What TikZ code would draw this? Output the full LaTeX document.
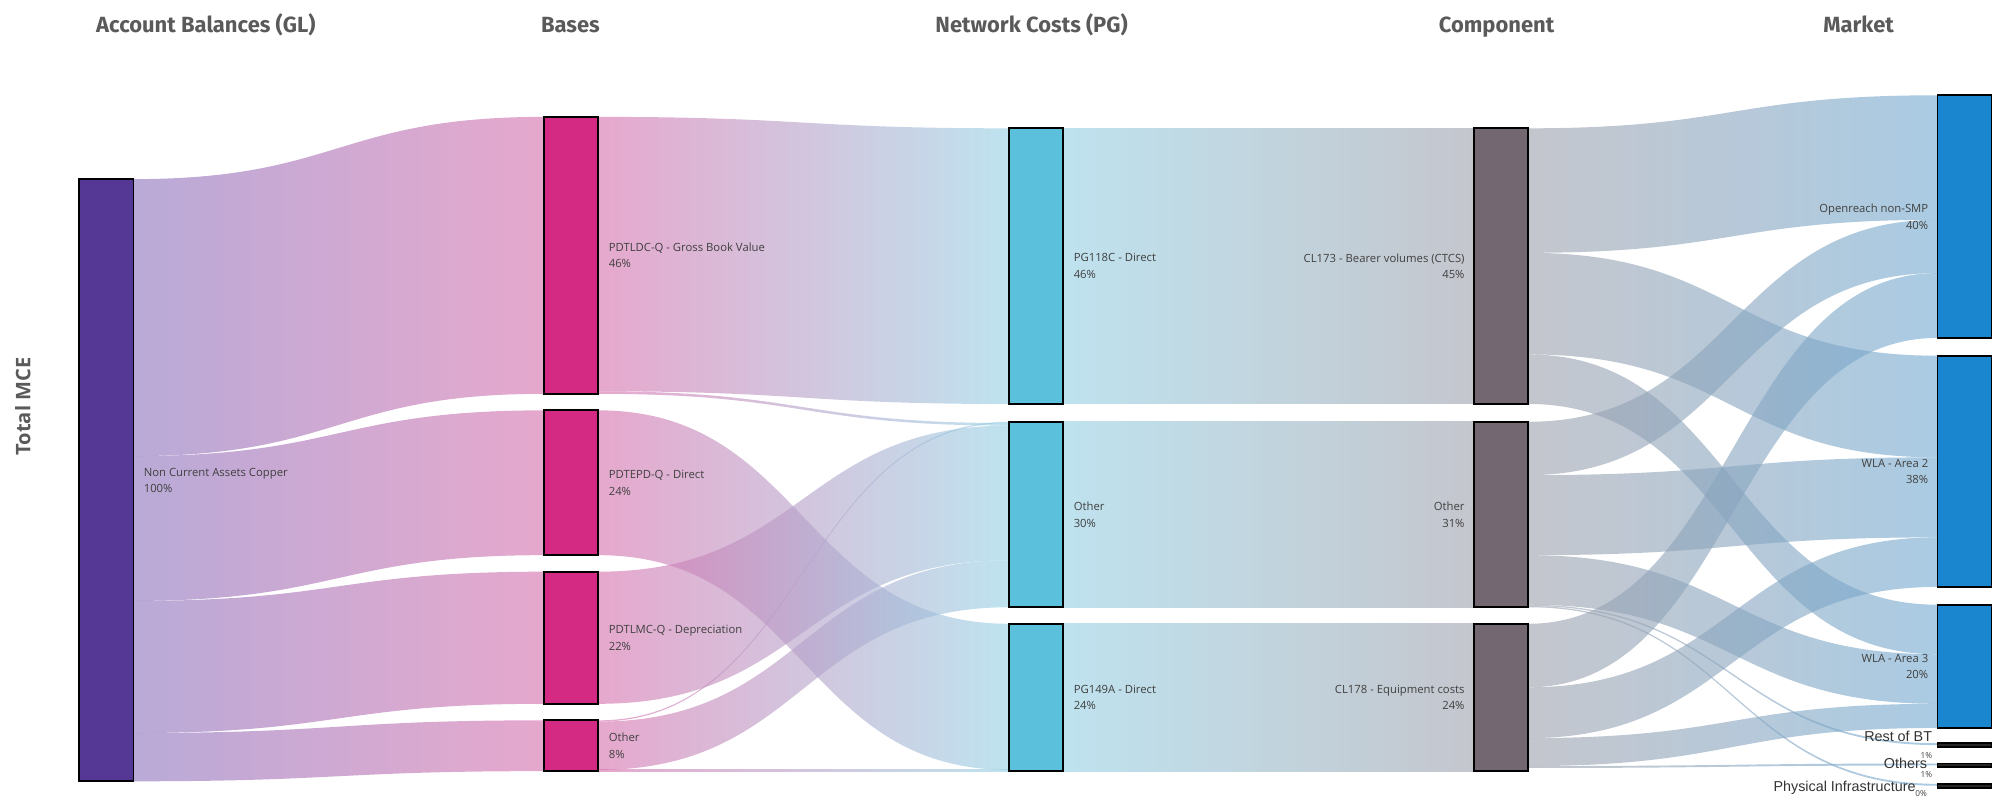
\documentclass[tikz,border=0pt]{standalone}
\usepackage{fontspec}
\setmainfont{Open Sans}
\newfontfamily\titlefont{Fira Sans}
\newfontfamily\smallmktfont{Liberation Sans}
\usetikzlibrary{calc}
\usetikzlibrary{backgrounds}

\definecolor{mcepurple}{HTML}{553796}
\definecolor{basepink}{HTML}{D42A84}
\definecolor{pgcyan}{HTML}{5BC0DC}
\definecolor{clmauve}{HTML}{736772}
\definecolor{mktblue}{HTML}{1A86CF}
\definecolor{titlegrey}{HTML}{5A5A5A}
\definecolor{labelgrey}{HTML}{404040}
\definecolor{lilac}{HTML}{8A71BC}
\definecolor{rose}{HTML}{D56EAC}
\definecolor{ice}{HTML}{93CFE3}
\definecolor{steel}{HTML}{9DA0AC}
\definecolor{sky}{HTML}{71A8D0}

% band between two bars: offsets measured down from the top of each bar
\newcommand{\sankeylink}[7][]{%
  \coordinate (st) at ([yshift=-#3pt]#2.north east);
  \coordinate (sb) at ([yshift=-#4pt]#2.north east);
  \coordinate (dt) at ([yshift=-#6pt]#5.north west);
  \coordinate (db) at ([yshift=-#7pt]#5.north west);
  \coordinate (mx) at ($(st)!0.5!(dt)$);
  \shade[#1] (st) .. controls (mx |- st) and (mx |- dt) .. (dt)
    -- (db) .. controls (mx |- db) and (mx |- sb) .. (sb) -- cycle;
}

\begin{document}
\begin{tikzpicture}[x=1pt, y=-1pt,
    bar/.style={rectangle, draw=black, line width=1.4pt, minimum width=43pt, inner sep=0pt, outer sep=0pt, anchor=north west},
    thinbar/.style={bar, fill=black!85, minimum height=3pt},
    lbl/.style={inner sep=0pt, text=labelgrey, font=\fontsize{8.9}{13}\selectfont},
    lbll/.style={lbl, align=left, anchor=west},
    lblr/.style={lbl, align=right, anchor=east},
    mktsmall/.style={inner sep=0pt, anchor=base east, text=black!80, font=\smallmktfont\fontsize{11.3}{12}\selectfont},
    mktpct/.style={inner sep=0pt, anchor=east, text=labelgrey, font=\fontsize{6.5}{7}\selectfont},
    coltitle/.style={anchor=base, text=titlegrey, font=\titlefont\bfseries\fontsize{17.3}{20}\selectfont},
    flowgl/.style={left color=lilac, right color=rose, fill opacity=0.6},
    flowbase/.style={left color=rose, right color=ice, fill opacity=0.6},
    flowpg/.style={left color=ice, right color=steel, fill opacity=0.6},
    flowcl/.style={left color=steel, right color=sky, fill opacity=0.6},
    ]
    \useasboundingbox (0,0) rectangle (1568,629);

    %Titles
    \node[coltitle] (tgl)     at (162,25.7)  {Account Balances (GL)};
    \node[coltitle] (tbase)   at (449,25.7)  {Bases};
    \node[coltitle] (tpg)     at (812,25.7)  {Network Costs (PG)};
    \node[coltitle] (tcl)     at (1178,25.7) {Component};
    \node[coltitle] (tmkt)    at (1463,25.7) {Market};
    \node[rotate=90, text=titlegrey, font=\bfseries\fontsize{15.8}{18}\selectfont] (totalmce) at (18,320) {Total MCE};

    %Bars
    \node[bar, fill=mcepurple, minimum height=474pt] (mce)    at (62,141)   {};
    \node[bar, fill=basepink,  minimum height=218pt] (ldc)    at (428,92)   {};
    \node[bar, fill=basepink,  minimum height=114pt] (epd)    at (428,323)  {};
    \node[bar, fill=basepink,  minimum height=104pt] (lmc)    at (428,450)  {};
    \node[bar, fill=basepink,  minimum height=40pt]  (bother) at (428,567)  {};
    \node[bar, fill=pgcyan,    minimum height=217pt] (pg118)   at (794,101) {};
    \node[bar, fill=pgcyan,    minimum height=146pt] (pgother) at (794,332) {};
    \node[bar, fill=pgcyan,    minimum height=116pt] (pg149)   at (794,491) {};
    \node[bar, fill=clmauve,   minimum height=217pt] (cl173)   at (1160,101) {};
    \node[bar, fill=clmauve,   minimum height=146pt] (clother) at (1160,332) {};
    \node[bar, fill=clmauve,   minimum height=116pt] (cl178)   at (1160,491) {};
    \node[bar, fill=mktblue,   minimum height=191pt] (ornsmp)  at (1525,75)  {};
    \node[bar, fill=mktblue,   minimum height=182pt] (wla2)    at (1525,280) {};
    \node[bar, fill=mktblue,   minimum height=97pt]  (wla3)    at (1525,476) {};
    \node[thinbar] (restbt)  at (1525,585) {};
    \node[thinbar] (others)  at (1525,601) {};
    \node[thinbar] (physinf) at (1525,617) {};

    %Links
    \begin{scope}[on background layer]
    \sankeylink[flowgl]{mce}{0}{218}{ldc}{0}{218}
    \sankeylink[flowgl]{mce}{218}{332}{epd}{0}{114}
    \sankeylink[flowgl]{mce}{332}{436}{lmc}{0}{104}
    \sankeylink[flowgl]{mce}{436}{474}{bother}{0}{40}

    \sankeylink[flowbase]{ldc}{0}{216}{pg118}{0}{217}
    \sankeylink[flowbase]{ldc}{216}{218}{pgother}{1}{3}
    \sankeylink[flowbase]{epd}{0}{114}{pg149}{0}{115}
    \sankeylink[flowbase]{lmc}{0}{104}{pgother}{3}{109}
    \sankeylink[flowbase]{bother}{0}{1}{pgother}{0}{1}
    \sankeylink[flowbase]{bother}{1}{39}{pgother}{109}{146}
    \sankeylink[flowbase]{bother}{39}{40}{pg149}{115}{116}

    \sankeylink[flowpg]{pg118}{0}{217}{cl173}{0}{217}
    \sankeylink[flowpg]{pgother}{0}{146}{clother}{0}{146}
    \sankeylink[flowpg]{pg149}{0}{116}{cl178}{0}{116}

    \sankeylink[flowcl]{cl173}{0}{98}{ornsmp}{0}{98}
    \sankeylink[flowcl]{cl173}{98}{178}{wla2}{0}{80}
    \sankeylink[flowcl]{cl173}{178}{217}{wla3}{0}{39}
    \sankeylink[flowcl]{clother}{0}{42}{ornsmp}{98}{140}
    \sankeylink[flowcl]{clother}{42}{105}{wla2}{80}{143}
    \sankeylink[flowcl]{clother}{105}{144}{wla3}{39}{78}
    \sankeylink[flowcl]{clother}{144}{145}{restbt}{0}{1.5}
    \sankeylink[flowcl]{clother}{145}{146}{physinf}{0}{1.5}
    \sankeylink[flowcl]{cl178}{0}{50}{ornsmp}{140}{191}
    \sankeylink[flowcl]{cl178}{50}{90}{wla2}{143}{182}
    \sankeylink[flowcl]{cl178}{90}{112}{wla3}{78}{97}
    \sankeylink[flowcl]{cl178}{112}{113.5}{others}{0}{1.5}
    \end{scope}

    %Labels
    \node[lbll] (mcelbl)     at ([xshift=8pt]mce.east)     {Non Current Assets Copper\\100\%};
    \node[lbll] (ldclbl)     at ([xshift=8pt]ldc.east)     {PDTLDC-Q - Gross Book Value\\46\%};
    \node[lbll] (epdlbl)     at ([xshift=8pt]epd.east)     {PDTEPD-Q - Direct\\24\%};
    \node[lbll] (lmclbl)     at ([xshift=8pt]lmc.east)     {PDTLMC-Q - Depreciation\\22\%};
    \node[lbll] (botherlbl)  at ([xshift=8pt]bother.east)  {Other\\8\%};
    \node[lbll] (pg118lbl)   at ([xshift=8pt]pg118.east)   {PG118C - Direct\\46\%};
    \node[lbll] (pgotherlbl) at ([xshift=8pt]pgother.east) {Other\\30\%};
    \node[lbll] (pg149lbl)   at ([xshift=8pt]pg149.east)   {PG149A - Direct\\24\%};
    \node[lblr] (cl173lbl)   at ([xshift=-7pt]cl173.west)  {CL173 - Bearer volumes (CTCS)\\45\%};
    \node[lblr] (clotherlbl) at ([xshift=-7pt]clother.west) {Other\\31\%};
    \node[lblr] (cl178lbl)   at ([xshift=-7pt]cl178.west)  {CL178 - Equipment costs\\24\%};
    \node[lblr] (ornsmplbl)  at ([xshift=-7pt]ornsmp.west) {Openreach non-SMP\\40\%};
    \node[lblr] (wla2lbl)    at ([xshift=-7pt]wla2.west)   {WLA - Area 2\\38\%};
    \node[lblr] (wla3lbl)    at ([xshift=-7pt]wla3.west)   {WLA - Area 3\\20\%};
    \node[mktsmall] (restbtlbl)  at ([xshift=-4pt,yshift=2.5pt]restbt.west)    {Rest of BT};
    \node[mktpct]   (restbtpct)  at ([xshift=-4pt,yshift=-8pt]restbt.west)     {1\%};
    \node[mktsmall] (otherslbl)  at ([xshift=-8pt,yshift=-2.5pt]others.west)   {Others};
    \node[mktpct]   (otherspct)  at ([xshift=-4pt,yshift=-7.5pt]others.west)   {1\%};
    \node[mktsmall] (physinflbl) at ([xshift=-17pt,yshift=-4.5pt]physinf.west) {Physical Infrastructure};
    \node[mktpct]   (physinfpct) at ([xshift=-8pt,yshift=-6pt]physinf.west)    {0\%};

\end{tikzpicture}
\end{document}
